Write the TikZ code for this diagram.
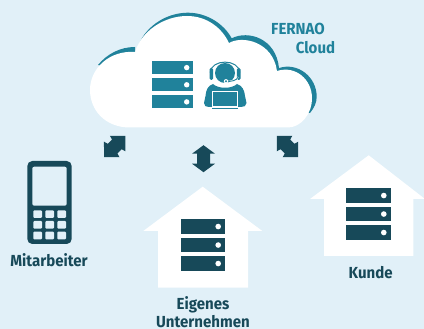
\documentclass[tikz,border=0pt]{standalone}
\usepackage{fontspec}
\setmainfont[FakeStretch=0.94]{Fira Sans}
\definecolor{bgc}{HTML}{E1F0F8}
\definecolor{tealc}{HTML}{20829B}
\definecolor{darkc}{HTML}{174959}
\tikzset{
  lbl/.style={font=\fontsize{16}{18}\selectfont\bfseries,text=darkc,inner sep=0pt,anchor=base},
  tlbl/.style={lbl,text=tealc},
  pics/vertarrow/.style={code={
    \fill[darkc] (0,-13.5) -- (11.5,-5) -- (6.5,-5) -- (6.5,5) -- (11.5,5) -- (0,13.5) -- (-11.5,5) -- (-6.5,5) -- (-6.5,-5) -- (-11.5,-5) -- cycle;
  }},
  pics/diagarrow/.style={code={
    \fill[darkc] (0,-15) -- (11,-4.2) -- (6.8,-3) -- (6.8,3) -- (11,4.2) -- (0,15) -- (-11,4.2) -- (-6.8,3) -- (-6.8,-3) -- (-11,-4.2) -- cycle;
  }},
  pics/srv/.style={code={
    \foreach \yy in {0,18.5,37}{
      \fill[#1] (0,\yy) rectangle (44.5,\yy+14.5);
      \fill[white] (37.5,\yy+7.25) circle (2.8);
    }
  }}
}
\begin{document}
\begin{tikzpicture}[x=1pt,y=-1pt]
\useasboundingbox (0,0) rectangle (424,329);
\fill[bgc] (0,0) rectangle (424,329);
% cloud crescents
\fill[tealc] (98,65) .. controls (107,54) and (120,47) .. (135,47) -- (135,53) -- (142,38)
  .. controls (152,22) and (170,12.7) .. (188,12.7)
  .. controls (207,12.7) and (224,24) .. (231.7,38.3)
  .. controls (248,30) and (276,38) .. (279,68)
  .. controls (298,62) and (316.7,77) .. (316.7,96.7)
  .. controls (316.7,103) and (314,108) .. (310,113) -- cycle;
% cloud
\fill[white] (130,127.5) .. controls (105,127.5) and (90,110) .. (90,90)
  .. controls (90,68) and (110,50) .. (135,52)
  .. controls (142,30) and (165,16) .. (187,16)
  .. controls (207,16) and (222,28) .. (229,43)
  .. controls (243,35) and (273,42) .. (277,71)
  .. controls (296,65) and (312,80) .. (312,98)
  .. controls (312,115) and (300,127.5) .. (288,127.5) -- cycle;
% cloud server
\foreach \yy in {60.7,77.9,95}{
  \fill[tealc] (152,\yy) rectangle (193,\yy+13.5);
  \fill[white] (186.7,\yy+6.9) circle (2.7);
}
% person
\draw[tealc,line width=1pt] (210.3,73) .. controls (210.3,58.5) and (239.7,58.5) .. (239.7,73);
\fill[tealc,rounded corners=1.5pt] (209.5,68) rectangle (213.2,80);
\fill[tealc,rounded corners=1.5pt] (236.8,68) rectangle (240.5,80);
\fill[tealc] (225,73) circle (10);
\draw[white,line width=1.6pt] (238,77) .. controls (237,80.5) and (232,81.5) .. (226,81.5);
\draw[tealc,line width=.9pt] (238,77) .. controls (237,80.5) and (232,81.5) .. (226,81.5);
\fill[white] (226,81.3) circle (2.2);
\fill[tealc] (226,81.3) circle (1.1);
\fill[tealc] (213,84) .. controls (218,89) and (232,89) .. (237,84)
  .. controls (242,85.5) and (244.5,90) .. (245,96) -- (246.5,103) .. controls (246.5,106) and (244,107) .. (241,107)
  -- (209,107) .. controls (206,107) and (204,106) .. (204,103) -- (205.5,96) .. controls (206,90) and (208,85.5) .. (213,84) -- cycle;
\fill[white] (212.2,90.8) rectangle (237.8,107.8);
\fill[tealc] (213.4,92) rectangle (236.6,106.2);
\fill[tealc] (211.7,108.2) rectangle (238.3,109.2);
% phone
\fill[darkc,rounded corners=5pt] (27.3,161) rectangle (71.7,244);
\fill[bgc,rounded corners=2pt] (32.3,166.7) rectangle (66.7,205.7);
\foreach \kx in {33.3,45.3,57.3}{
  \foreach \ky in {210.3,221,231.7}{
    \fill[bgc,rounded corners=1pt] (\kx,\ky) rectangle (\kx+8.7,\ky+7.7);
  }
}
% houses
\fill[white] (202.7,186.7) -- (262.3,231) -- (248,231) -- (248,287.7) -- (158,287.7) -- (158,231) -- (143.3,231) -- cycle;
\pic at (180.7,219.3) {srv=darkc};
\fill[white] (368.7,155.3) -- (425,199) -- (413.3,199) -- (413.3,256) -- (324,256) -- (324,199) -- (310,199) -- cycle;
\pic at (346.3,188.3) {srv=darkc};
% arrows
\pic[rotate=-45] at (114.7,146.5) {diagarrow};
\pic at (203.5,158.7) {vertarrow};
\pic[rotate=45] at (287.5,146.5) {diagarrow};
% labels
\node[tlbl] (fernao) at (298,34.3) {FERNAO};
\node[tlbl] (cloud) at (315.5,54) {Cloud};
\node[lbl] (mit) at (49,266.3) {Mitarbeiter};
\node[lbl] (eig) at (203,309) {Eigenes};
\node[lbl] (unt) at (203,327.8) {Unternehmen};
\node[lbl] (kun) at (370.7,278.3) {Kunde};
\end{tikzpicture}
\end{document}
